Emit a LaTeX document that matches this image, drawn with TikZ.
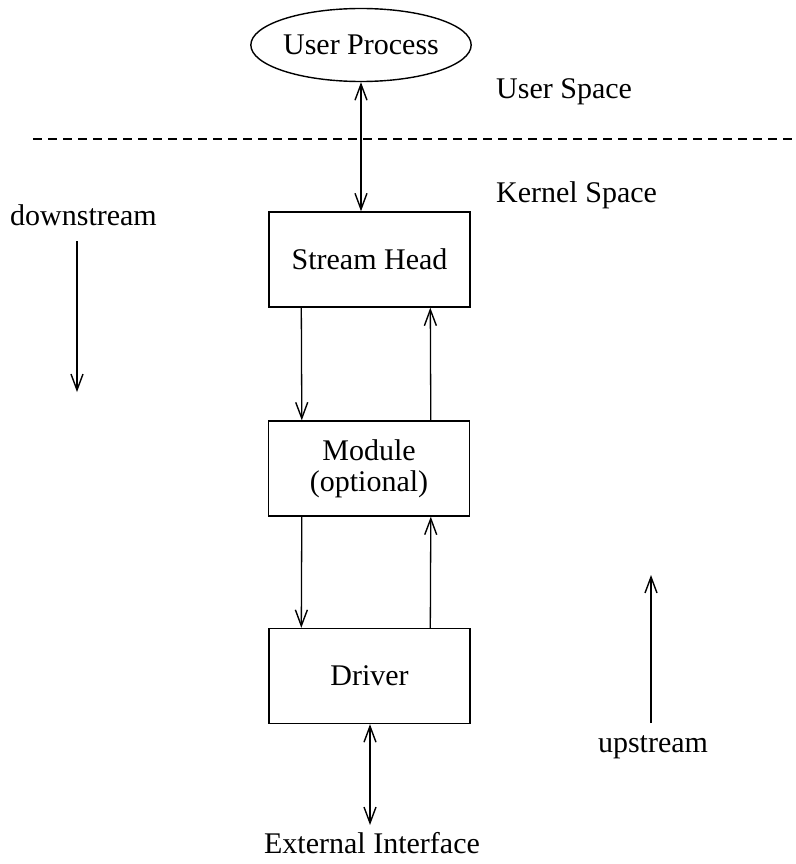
\documentclass[tikz,border=0pt]{standalone}
\usepackage{fontspec}
\setmainfont{Liberation Serif}
\usetikzlibrary{arrows.meta,shapes.geometric,calc}
\begin{document}
\begin{tikzpicture}[x=1pt,y=-1pt,
  lbl/.style={font=\fontsize{30}{33}\selectfont, inner sep=0pt},
  blk/.style={draw, line width=1.4pt, minimum width=201pt, minimum height=95pt, inner sep=0pt, align=center, font=\fontsize{30}{31}\selectfont},
  conn/.style={line width=1.3pt},
  tip/.style={arrows={-Straight Barb[length=16pt,width=12pt,line width=1.4pt]}},
  bitip/.style={arrows={Straight Barb[length=16pt,width=12pt,line width=1.4pt]-Straight Barb[length=16pt,width=12pt,line width=1.4pt]}}]
\useasboundingbox (0,0) rectangle (795,864);
\node[draw, ellipse, line width=1.4pt, minimum width=218pt, minimum height=73pt, inner sep=0pt, font=\fontsize{30}{31}\selectfont] (up) at (361,45) {User Process};
\node[blk] (sh) at (369.5,259.5) {Stream Head};
\node[blk] (mod) at (369,468.5) {Module\\(optional)};
\node[blk] (drv) at (369.5,676) {Driver};
\node[lbl, anchor=base west] (us) at (496,99) {User Space};
\node[lbl, anchor=base west] (ks) at (496,202) {Kernel Space};
\node[lbl, anchor=base] (ds) at (83.5,225) {downstream};
\node[lbl, anchor=base] (ust) at (653,752) {upstream};
\node[lbl, anchor=base] (ext) at (372,853) {External Interface};
\coordinate (dl) at (33,139);
\coordinate (dr) at (795,139);
\coordinate (dsa) at (77,241);
\coordinate (dsb) at (77,392);
\coordinate (usa) at (651,723);
\coordinate (usb) at (651,575);
\coordinate (exa) at (370,825);
\draw[line width=1.3pt, dash pattern=on 9pt off 6pt] (dl) -- (dr);
\draw[conn,bitip] (up.south) -- (up.south |- sh.north);
\draw[conn,tip] ($(sh.south west)+(33,0)$) -- ($(mod.north west)+(34,0)$);
\draw[conn,tip] ($(mod.north west)+(163,0)$) -- ($(sh.south west)+(162,0)$);
\draw[conn,tip] ($(mod.south west)+(34,0)$) -- ($(drv.north west)+(33,0)$);
\draw[conn,tip] ($(drv.north west)+(162,0)$) -- ($(mod.south west)+(163,0)$);
\draw[conn,bitip] (drv.south -| exa) -- (exa);
\draw[conn,tip] (dsa) -- (dsb);
\draw[conn,tip] (usa) -- (usb);
\end{tikzpicture}
\end{document}
